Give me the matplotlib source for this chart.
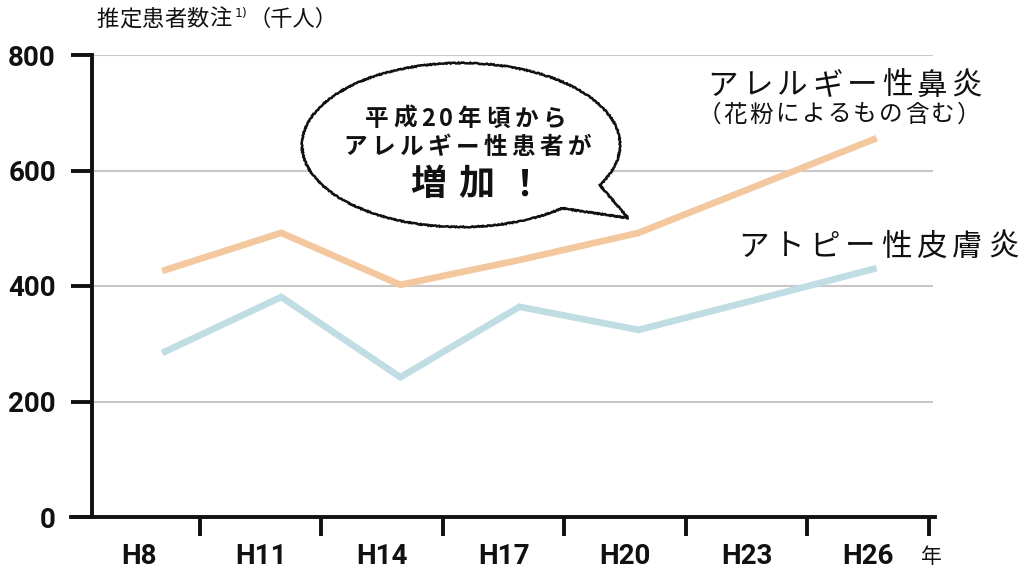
import numpy as np
import matplotlib
matplotlib.use('Agg')
import matplotlib.pyplot as plt
from matplotlib.patches import Polygon

# ── data (推定患者数, 千人) ─────────────────────────────────────────────────
years = ['H8', 'H11', 'H14', 'H17', 'H20', 'H23', 'H26']
rhinitis = [426, 492, 402, 445, 492, 574, 656]    # アレルギー性鼻炎
atopic = [284, 381, 242, 364, 324, 377, 431]      # アトピー性皮膚炎
yticks = [0, 200, 400, 600, 800]

ORANGE = '#F4C89E'
BLUE = '#BFDDE3'
GRID = '#C8C8C8'
INK = '#111111'
JP = ['Noto Sans CJK JP', 'DejaVu Sans']
NUM = ['Roboto', 'DejaVu Sans']

plt.rcParams['font.family'] = JP

W, H = 1026, 576
fig = plt.figure(figsize=(W / 100, H / 100), dpi=100)
fig.patch.set_facecolor('white')

# plot area in pixels: x 71..935, y 55 (800) .. 517 (0)
ax = fig.add_axes([71 / W, (H - 517) / H, (935 - 71) / W, (517 - 55) / H])
ax.set_xlim(-0.56, 6.55)
ax.set_ylim(0, 800)
ax.set_facecolor('none')

yaxis_x = -0.387
ax.hlines(yticks[1:], yaxis_x, 6.535, color=GRID, lw=1.5, zorder=1)

pos = np.arange(len(years))
xs = 0.19 + 0.98 * pos
ax.plot(xs, rhinitis, color=ORANGE, lw=4.8, solid_joinstyle='miter',
        solid_capstyle='butt', zorder=3)
ax.plot(xs, atopic, color=BLUE, lw=4.8, solid_joinstyle='miter',
        solid_capstyle='butt', zorder=3)

for s in ['top', 'right']:
    ax.spines[s].set_visible(False)
ax.spines['left'].set_position(('data', yaxis_x))
ax.spines['left'].set_bounds(0, 800)
for s in ['left', 'bottom']:
    ax.spines[s].set_linewidth(2.8)
    ax.spines[s].set_color(INK)
    ax.spines[s].set_zorder(4)

ax.set_yticks(yticks)
ax.set_yticklabels([str(v) for v in yticks], family=NUM,
                   fontsize=20, fontweight='bold', color=INK)
ax.tick_params(axis='y', direction='out', length=15, width=2.8, pad=11,
               color=INK)

ax.set_xticks(pos + 0.5)
ax.set_xticklabels([])
ax.set_xticks(pos, minor=True)
ax.set_xticklabels(years, minor=True, family=NUM, fontsize=20,
                   fontweight='bold', color=INK)
ax.tick_params(axis='x', which='major', direction='out', length=14,
               width=2.8, color=INK)
ax.tick_params(axis='x', which='minor', length=0, pad=19)

# ── overlay in pixel coords for annotations ────────────────────────────────
ov = fig.add_axes([0, 0, 1, 1])
ov.set_xlim(0, W)
ov.set_ylim(H, 0)
ov.axis('off')
ov.patch.set_alpha(0)


def spaced(x, y, s, step, **kw):
    """draw s char by char, x = left edge of first cell"""
    p = x
    for ch in s:
        w = 0.62 if ch.isascii() else 1.0
        ov.text(p + w * step / 2, y, ch, ha='center', va='center',
                color=INK, **kw)
        p += w * step


# y-axis title
spaced(96, 19, '推定患者数注', 22.6, fontsize=16)
ov.text(235, 14, '1)', fontsize=9, ha='left', va='center', color=INK,
        family='DejaVu Sans')
ov.text(249, 19, '（千人）', fontsize=16, ha='left', va='center', color=INK)

# speech bubble
cx, cy, a, b = 461, 145, 159, 82
th = np.radians(np.linspace(50.5, 389.2, 240))
pts = list(zip(cx + a * np.cos(th), cy + b * np.sin(th)))
pts.append((628, 218))
bubble = Polygon(pts, closed=True, facecolor='white', edgecolor=INK,
                 lw=1.8, joinstyle='miter', zorder=5)
bubble.set_sketch_params(scale=0.5, length=2, randomness=2)
ov.add_patch(bubble)

spaced(363, 119, '平成20年頃から', 28.4, fontsize=17, fontweight='bold',
       zorder=6)
spaced(341, 147, 'アレルギー性患者が', 28.1, fontsize=17,
       fontweight='bold', zorder=6)
spaced(404, 185, '増加！', 48, fontsize=26, fontweight='bold', zorder=6)

# series labels
spaced(705, 86, 'アレルギー性鼻炎', 34.9, fontsize=22)
spaced(696, 115, '（花粉によるもの含む）', 26, fontsize=17)
spaced(736, 247, 'アトピー性皮膚炎', 35.6, fontsize=22)

ov.text(931, 557, '年', fontsize=15, ha='center', va='center', color=INK)

fig.savefig('out.png', dpi=100, facecolor='white')
